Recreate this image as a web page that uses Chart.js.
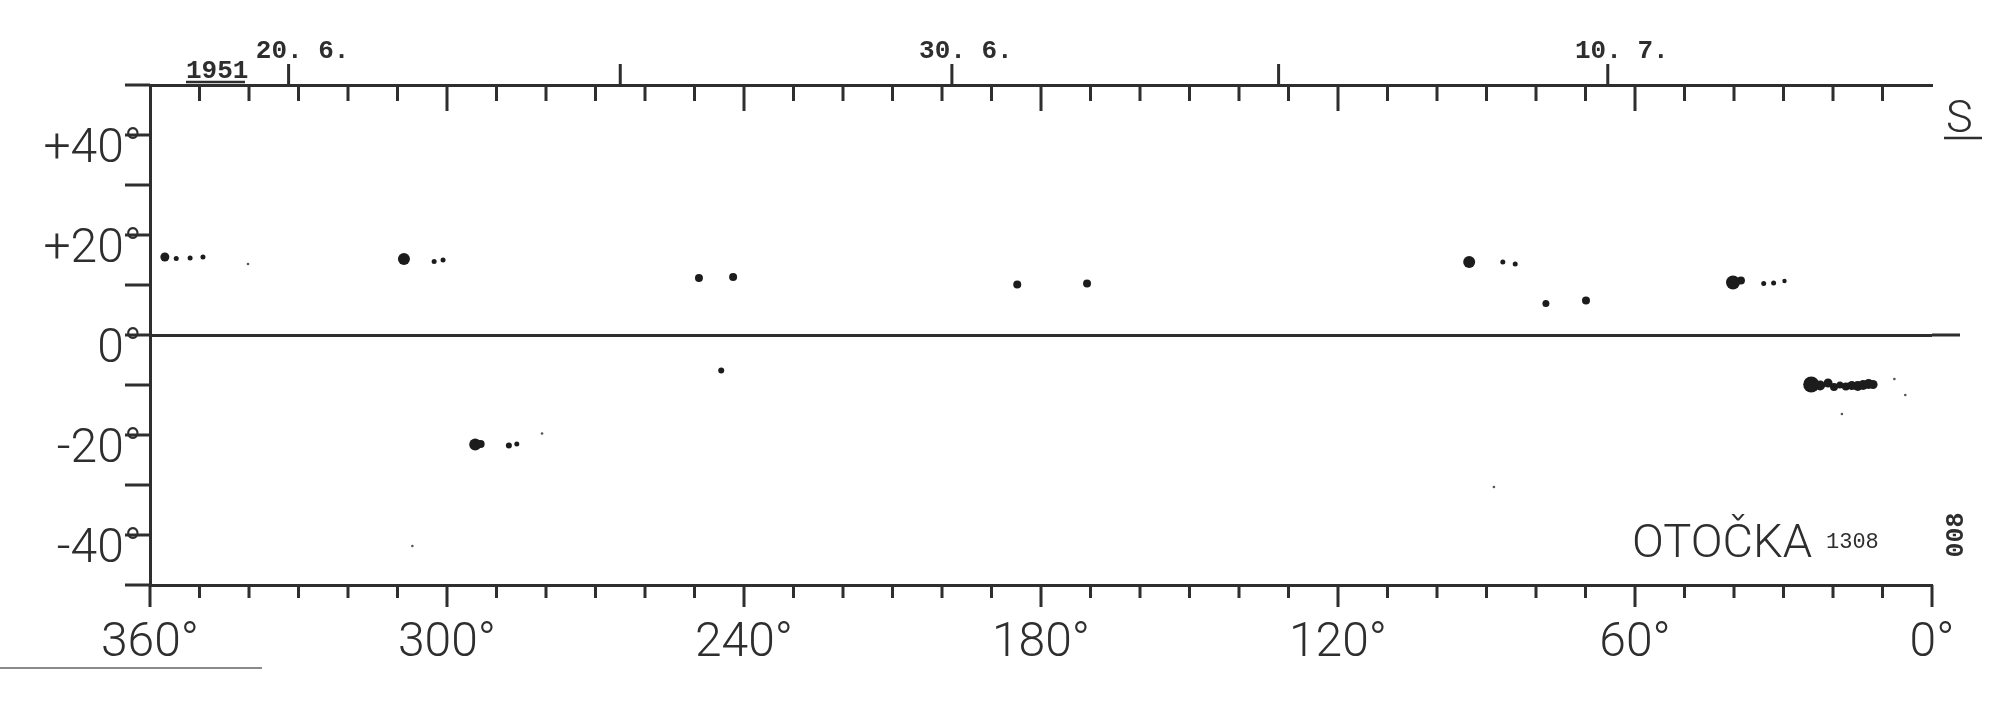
<!DOCTYPE html>
<html>
<head>
<meta charset="utf-8">
<title>OTOČKA 1308</title>
<script src="https://cdn.jsdelivr.net/npm/chart.js@4.4.1/dist/chart.umd.min.js"></script>
<style>
    html, body { margin: 0; padding: 0; background: #fff; }
    #wrap { width: 2000px; height: 714px; position: relative; }
</style>
</head>
<body>
<div id="wrap"><canvas id="chart"></canvas></div>
<script>
// heliographic longitude / latitude of the spots
const spotLon  = [357.0, 354.7, 351.9, 349.3,  308.7, 302.6, 300.8,  249.1, 242.2, 244.6,  184.8, 170.7,
                  93.5, 86.7, 84.2,  78.0, 69.9,  40.2, 38.6, 34.0, 32.0, 29.8,
                  24.4, 22.6, 21.0, 19.8, 18.6, 17.4, 16.2, 15.0, 13.9, 12.8, 11.9,
                  294.3, 293.2, 287.5, 285.9];
const spotLat  = [15.6, 15.3, 15.4, 15.6,  15.2, 14.7, 15.0,  11.4, 11.6, -7.1,  10.1, 10.3,
                  14.6, 14.6, 14.2,  6.3, 6.9,  10.5, 10.9, 10.3, 10.4, 10.8,
                  -9.9, -10.1, -9.6, -10.4, -10.0, -10.3, -10.1, -10.2, -10.0, -9.8, -9.9,
                  -21.9, -21.8, -22.1, -21.8];
const spotSize = [4.5, 2.5, 2.5, 2.5,  6, 2.5, 2.5,  4, 4, 3,  4, 4,
                  6, 2.5, 2.5,  3.5, 4,  7, 4, 2.5, 2.5, 2.2,
                  8, 5, 4.5, 4, 3.5, 4, 4.5, 5, 5, 5, 4.5,
                  6, 4, 3, 2.5];

// small specks on the sheet
const speckLon = [340.2, 307.0, 88.5, 18.2, 280.8, 7.6, 5.4];
const speckLat = [14.2, -42.2, -30.4, -15.8, -19.7, -8.8, -12.0];

// axes
const lonTicks = [0, 10, 20, 30, 40, 50, 60, 70, 80, 90, 100, 110, 120, 130, 140, 150, 160, 170, 180,
                  190, 200, 210, 220, 230, 240, 250, 260, 270, 280, 290, 300, 310, 320, 330, 340, 350, 360];
const latTicks = [-50, -40, -30, -20, -10, 0, 10, 20, 30, 40, 50];
const latLabelValues = [-40, -20, 0, 20, 40];
const latLabels = ['-40°', '-20°', '0°', '+20°', '+40°'];

// central meridian dates (top scale)
const dateLon = [332.0, 265.0, 198.0, 132.0, 65.5];
const dateLabels = ['20. 6.', '', '30. 6.', '', '10. 7.'];

const ink = '#2e2e2e';
const plotFont = "Roboto, 'DejaVu Sans', sans-serif";
const typeFont = "'Liberation Mono', 'DejaVu Sans Mono', monospace";

const sheetMarks = {
    id: 'sheetMarks',
    afterDraw(chart) {
        const { ctx, chartArea: a, scales: { x, y } } = chart;
        ctx.save();
        ctx.strokeStyle = ink;
        ctx.lineWidth = 3;
        ctx.beginPath();
        lonTicks.forEach(v => {
            const px = x.getPixelForValue(v);
            const major = v % 60 === 0;
            ctx.moveTo(px, a.bottom);
            ctx.lineTo(px, a.bottom + (major ? 22 : 13));
            if (v > 0 && v < 360) {
                ctx.moveTo(px, a.top);
                ctx.lineTo(px, a.top + (major ? 26 : 16));
            }
        });
        dateLon.forEach(v => {
            const px = x.getPixelForValue(v);
            ctx.moveTo(px, a.top);
            ctx.lineTo(px, a.top - 21);
        });
        latTicks.forEach(v => {
            const py = y.getPixelForValue(v);
            ctx.moveTo(a.left, py);
            ctx.lineTo(a.left - 25, py);
        });
        const eq = y.getPixelForValue(0);
        ctx.moveTo(a.right, eq);
        ctx.lineTo(a.right + 28, eq);
        ctx.stroke();

        ctx.fillStyle = ink;
        ctx.textBaseline = 'alphabetic';

        // year
        ctx.font = "bold 26px " + typeFont;
        ctx.textAlign = 'left';
        ctx.fillText('1951', a.left + 36, a.top - 7);
        ctx.lineWidth = 2.5;
        ctx.beginPath();
        ctx.moveTo(a.left + 36, a.top - 3);
        ctx.lineTo(a.left + 95, a.top - 3);
        ctx.stroke();

        // hemisphere mark
        ctx.font = "300 45px " + plotFont;
        ctx.fillText('S', a.right + 14, a.top + 47);
        ctx.beginPath();
        ctx.moveTo(a.right + 12, a.top + 53);
        ctx.lineTo(a.right + 50, a.top + 53);
        ctx.stroke();

        // observer + rotation number
        ctx.font = "300 47px " + plotFont;
        ctx.fillText('OTOČKA', a.right - 300, a.bottom - 28);
        ctx.font = "22px " + typeFont;
        ctx.fillText('1308', a.right - 106, a.bottom - 37);

        ctx.translate(a.right + 25, a.bottom - 50);
        ctx.rotate(-Math.PI / 2);
        ctx.textAlign = 'center';
        ctx.textBaseline = 'middle';
        ctx.font = "bold 25px " + typeFont;
        ctx.fillText('008', 0, 0);
        ctx.restore();

        // stray rule at the lower left of the sheet
        ctx.save();
        ctx.strokeStyle = '#8a8a8a';
        ctx.lineWidth = 2;
        ctx.beginPath();
        ctx.moveTo(0, a.bottom + 83);
        ctx.lineTo(262, a.bottom + 83);
        ctx.stroke();
        ctx.restore();
    }
};

const ctx = document.getElementById('chart').getContext('2d');

new Chart(ctx, {
    type: 'scatter',
    data: {
        datasets: [{
            label: 'spots',
            data: spotLon.map((lon, i) => ({ x: lon, y: spotLat[i] })),
            pointRadius: spotSize,
            pointBackgroundColor: '#1c1c1c',
            pointBorderWidth: 0,
            pointStyle: 'circle'
        }, {
            label: 'specks',
            data: speckLon.map((lon, i) => ({ x: lon, y: speckLat[i] })),
            pointRadius: 1.3,
            pointBackgroundColor: '#555',
            pointBorderWidth: 0
        }]
    },
    options: {
        responsive: true,
        maintainAspectRatio: false,
        animation: false,
        devicePixelRatio: 1,
        layout: { padding: { left: 0, right: 68, top: 0, bottom: 0 } },
        plugins: {
            legend: { display: false },
            tooltip: { enabled: false }
        },
        scales: {
            x: {
                type: 'linear',
                position: 'bottom',
                reverse: true,
                min: 0,
                max: 360,
                afterFit: s => { s.height = 129; },
                border: { display: true, color: ink, width: 3 },
                grid: { drawOnChartArea: false, drawTicks: false },
                ticks: {
                    stepSize: 60,
                    autoSkip: false,
                    maxRotation: 0,
                    padding: 30,
                    color: ink,
                    font: { family: plotFont, size: 48, weight: '300' },
                    callback: v => v + '°'
                }
            },
            xTop: {
                type: 'linear',
                position: 'top',
                reverse: true,
                min: 0,
                max: 360,
                afterFit: s => { s.height = 85; },
                afterBuildTicks: s => { s.ticks = dateLon.map(v => ({ value: v })); },
                border: { display: true, color: ink, width: 3 },
                grid: { drawOnChartArea: false, drawTicks: false },
                ticks: {
                    autoSkip: false,
                    maxRotation: 0,
                    padding: 18,
                    labelOffset: 14,
                    color: ink,
                    font: { family: typeFont, size: 26, weight: 'bold' },
                    callback: (v, i) => dateLabels[i]
                }
            },
            y: {
                type: 'linear',
                position: 'left',
                min: -50,
                max: 50,
                afterFit: s => { s.width = 150; },
                afterBuildTicks: s => { s.ticks = latLabelValues.map(v => ({ value: v })); },
                border: { display: true, color: ink, width: 3 },
                grid: {
                    drawTicks: false,
                    lineWidth: 3,
                    color: c => (c.tick && c.tick.value === 0) ? ink : 'rgba(0,0,0,0)'
                },
                ticks: {
                    padding: 8,
                    labelOffset: 15,
                    color: ink,
                    font: { family: plotFont, size: 48, weight: '300' },
                    callback: (v, i) => latLabels[i]
                }
            }
        }
    },
    plugins: [sheetMarks]
});
</script>
</body>
</html>
